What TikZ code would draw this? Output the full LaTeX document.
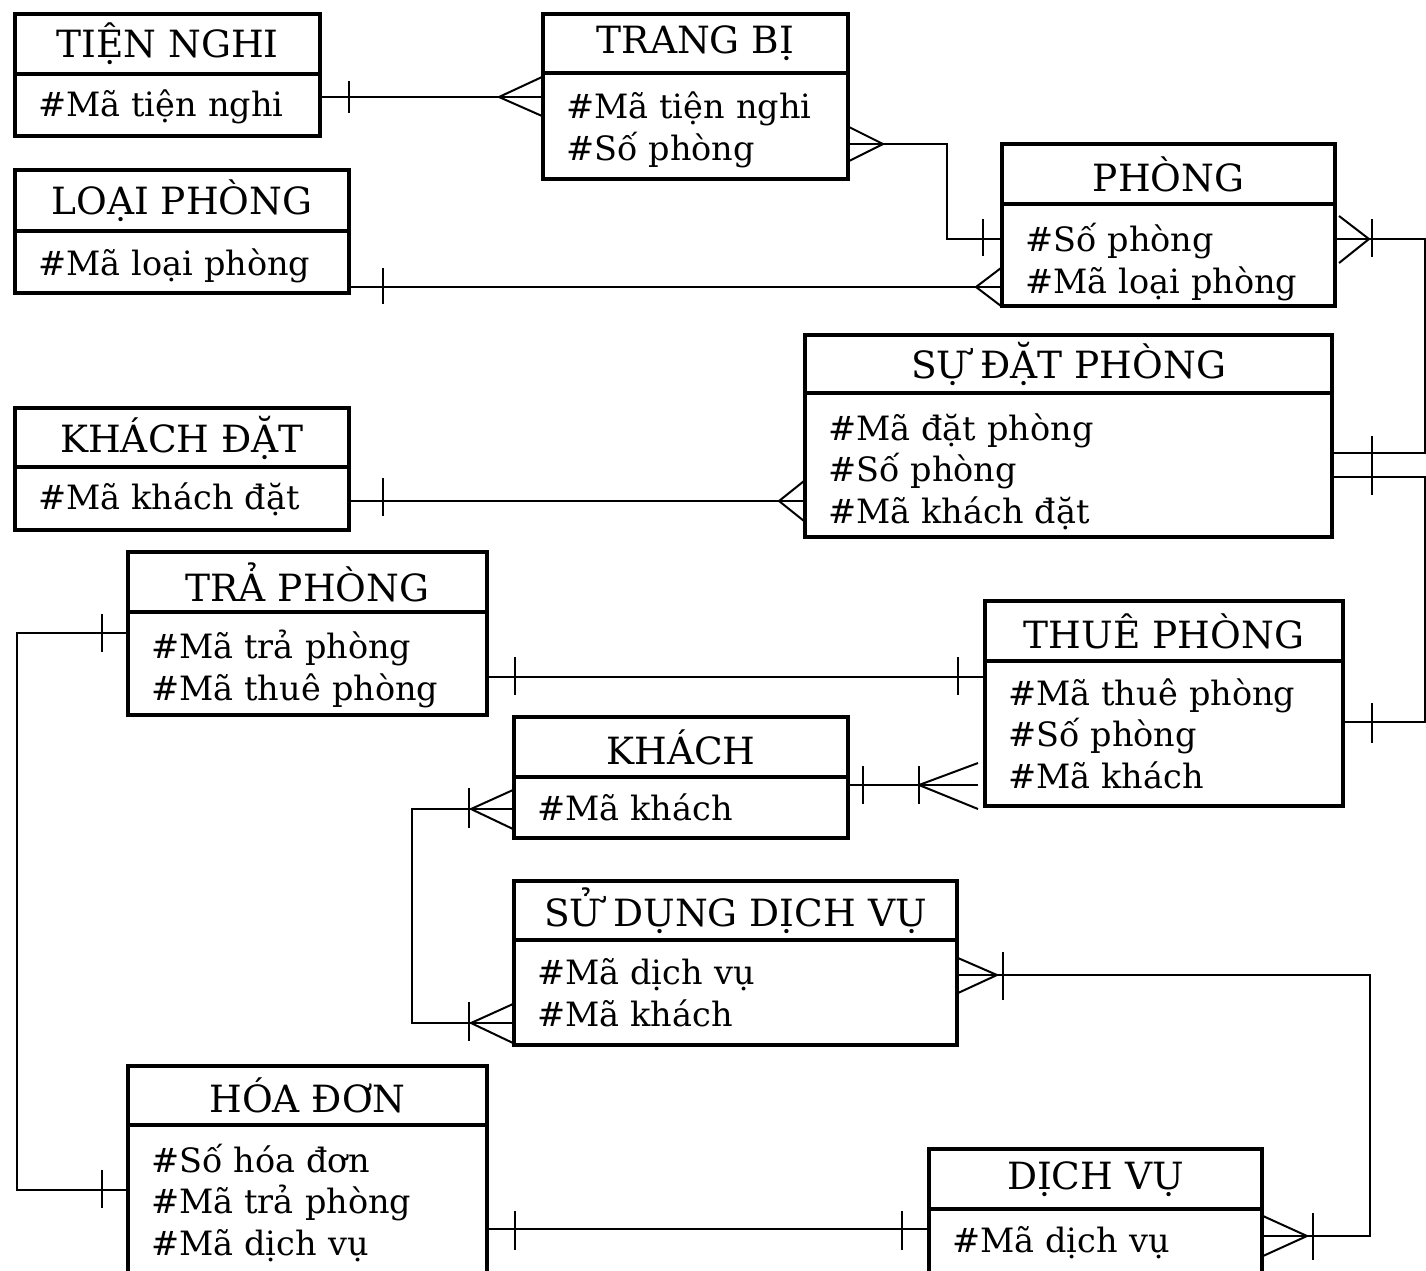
\documentclass[tikz,border=0pt]{standalone}
\usepackage{fontspec}
\setmainfont{DejaVu Serif}
\usetikzlibrary{positioning}

\tikzset{every picture/.style={line width=2pt}}
\tikzset{
  ent/.style={draw, line width=3.5pt, inner sep=0pt, outer sep=0pt},
  ename/.style={ent, anchor=north west, font=\fontsize{37.5}{42}\selectfont},
  eattr/.style={ent, inner xsep=23pt, align=left, font=\fontsize{33.5}{41.5}\selectfont},
  sink/.style={execute at begin node={\rule{0pt}{#1}}},
  link/.style={line width=2pt},
}

\begin{document}
\begin{tikzpicture}[x=1pt,y=1pt,yscale=-1,xscale=1]
      \useasboundingbox (0,0) rectangle (1426,1270);
      \clip (0,0) rectangle (1426,1270);

      % Entities
      \node[ename, minimum width=305pt, minimum height=60pt] (tiennghi) at (15,14) {TIỆN NGHI};
      \node[eattr, below=0pt of tiennghi, text width=259pt, minimum height=62pt, sink=30pt] (tiennghi-a) {\#Mã tiện nghi};

      \node[ename, minimum width=305pt, minimum height=59pt] (trangbi) at (543,14) {TRANG BỊ};
      \node[eattr, below=0pt of trangbi, text width=259pt, minimum height=106pt, sink=34pt] (trangbi-a) {\#Mã tiện nghi\\\#Số phòng};

      \node[ename, minimum width=333pt, minimum height=60pt] (phong) at (1002,144) {PHÒNG};
      \node[eattr, below=0pt of phong, text width=287pt, minimum height=102pt, sink=42pt] (phong-a) {\#Số phòng\\\#Mã loại phòng};

      \node[ename, minimum width=334pt, minimum height=61pt] (loaiphong) at (15,170) {LOẠI PHÒNG};
      \node[eattr, below=0pt of loaiphong, text width=288pt, minimum height=62pt, sink=34pt] (loaiphong-a) {\#Mã loại phòng};

      \node[ename, minimum width=527pt, minimum height=58pt] (sudat) at (805,335) {SỰ ĐẶT PHÒNG};
      \node[eattr, below=0pt of sudat, text width=481pt, minimum height=144pt, sink=40pt] (sudat-a) {\#Mã đặt phòng\\\#Số phòng\\\#Mã khách đặt};

      \node[ename, minimum width=334pt, minimum height=59pt] (khachdat) at (15,408) {KHÁCH ĐẶT};
      \node[eattr, below=0pt of khachdat, text width=288pt, minimum height=63pt, sink=29pt] (khachdat-a) {\#Mã khách đặt};

      \node[ename, minimum width=359pt, minimum height=60pt] (traphong) at (128,552) {TRẢ PHÒNG};
      \node[eattr, below=0pt of traphong, text width=313pt, minimum height=103pt, sink=39pt] (traphong-a) {\#Mã trả phòng\\\#Mã thuê phòng};

      \node[ename, minimum width=358pt, minimum height=60pt] (thue) at (985,601) {THUÊ PHÒNG};
      \node[eattr, below=0pt of thue, text width=312pt, minimum height=145pt] (thue-a) {\#Mã thuê phòng\\\#Số phòng\\\#Mã khách};

      \node[ename, minimum width=334pt, minimum height=60pt] (khach) at (514,717) {KHÁCH};
      \node[eattr, below=0pt of khach, text width=288pt, minimum height=61pt] (khach-a) {\#Mã khách};

      \node[ename, minimum width=443pt, minimum height=59pt] (sddv) at (514,881) {SỬ DỤNG DỊCH VỤ};
      \node[eattr, below=0pt of sddv, text width=397pt, minimum height=105pt] (sddv-a) {\#Mã dịch vụ\\\#Mã khách};

      \node[ename, minimum width=359pt, minimum height=59pt] (hoadon) at (128,1066) {HÓA ĐƠN};
      \node[eattr, below=0pt of hoadon, text width=313pt, minimum height=151pt, sink=33pt] (hoadon-a) {\#Số hóa đơn\\\#Mã trả phòng\\\#Mã dịch vụ};

      \node[ename, minimum width=333pt, minimum height=60pt] (dichvu) at (929,1149) {DỊCH VỤ};
      \node[eattr, below=0pt of dichvu, text width=287pt, minimum height=67pt] (dichvu-a) {\#Mã dịch vụ};

      % TIỆN NGHI - TRANG BỊ
      \draw[link] (tiennghi-a.east |- 0,97) -- (trangbi-a.west |- 0,97);
      \draw[link] (349,81) -- (349,113);
      \draw[link] (542,77) -- (499,97) -- (542,116);

      % TRANG BỊ - PHÒNG
      \draw[link] (trangbi-a.east |- 0,144) -| (947,239) -- (phong-a.west |- 0,239);
      \draw[link] (849,127) -- (883,144) -- (849,161);
      \draw[link] (983,219) -- (983,256);

      % LOẠI PHÒNG - PHÒNG
      \draw[link] (loaiphong-a.east |- 0,287) -- (phong-a.west |- 0,287);
      \draw[link] (383,268) -- (383,304);
      \draw[link] (1001,268) -- (976,287) -- (1001,306);

      % PHÒNG - SỰ ĐẶT PHÒNG
      \draw[link] (phong-a.east |- 0,239) -| (1425,453) -- (sudat-a.east |- 0,453);
      \draw[link] (1339,216) -- (1369,239) -- (1339,263);
      \draw[link] (1372,219) -- (1372,257);
      \draw[link] (1372,436) -- (1372,470);

      % SỰ ĐẶT PHÒNG - THUÊ PHÒNG
      \draw[link] (sudat-a.east |- 0,477) -| (1425,722) -- (thue-a.east |- 0,722);
      \draw[link] (1372,460) -- (1372,495);
      \draw[link] (1372,703) -- (1372,743);

      % KHÁCH ĐẶT - SỰ ĐẶT PHÒNG
      \draw[link] (khachdat-a.east |- 0,501) -- (sudat-a.west |- 0,501);
      \draw[link] (383,478) -- (383,516);
      \draw[link] (804,481) -- (779,501) -- (804,521);

      % TRẢ PHÒNG - THUÊ PHÒNG
      \draw[link] (traphong-a.east |- 0,677) -- (thue-a.west |- 0,677);
      \draw[link] (515,657) -- (515,695);
      \draw[link] (958,657) -- (958,695);

      % TRẢ PHÒNG - HÓA ĐƠN
      \draw[link] (traphong-a.west |- 0,633) -| (17,1190) -- (hoadon-a.west |- 0,1190);
      \draw[link] (102,614) -- (102,652);
      \draw[link] (102,1170) -- (102,1208);

      % KHÁCH - SỬ DỤNG DỊCH VỤ
      \draw[link] (khach-a.west |- 0,809) -| (412,1023) -- (sddv-a.west |- 0,1023);
      \draw[link] (513,790) -- (471,809) -- (513,829);
      \draw[link] (469,788) -- (469,828);
      \draw[link] (513,1004) -- (471,1023) -- (513,1043);
      \draw[link] (469,1002) -- (469,1041);

      % KHÁCH - THUÊ PHÒNG
      \draw[link] (khach-a.east |- 0,785) -- (978,785);
      \draw[link] (863,766) -- (863,804);
      \draw[link] (919,766) -- (919,804);
      \draw[link] (978,763) -- (919,785) -- (978,809);

      % SỬ DỤNG DỊCH VỤ - DỊCH VỤ
      \draw[link] (sddv-a.east |- 0,975) -| (1370,1236) -- (dichvu-a.east |- 0,1236);
      \draw[link] (958,958) -- (997,975) -- (958,993);
      \draw[link] (1003,952) -- (1003,1000);
      \draw[link] (1263,1216) -- (1307,1236) -- (1263,1256);
      \draw[link] (1313,1213) -- (1313,1260);

      % HÓA ĐƠN - DỊCH VỤ
      \draw[link] (hoadon-a.east |- 0,1229) -- (dichvu-a.west |- 0,1229);
      \draw[link] (515,1211) -- (515,1250);
      \draw[link] (902,1211) -- (902,1250);
\end{tikzpicture}
\end{document}
